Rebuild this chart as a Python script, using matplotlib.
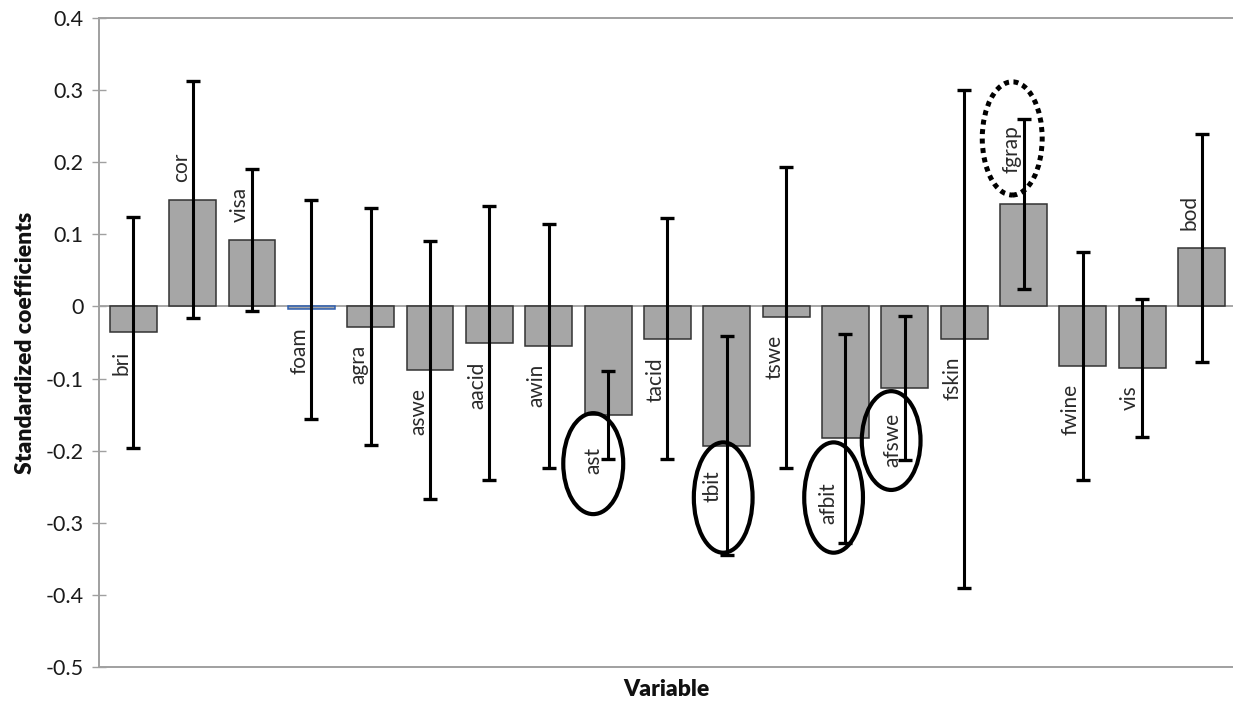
import matplotlib
matplotlib.use("Agg")
import matplotlib.pyplot as plt
from matplotlib.patches import Ellipse
from matplotlib.ticker import FuncFormatter
import numpy as np

# ---- data ----
variables = ["bri", "cor", "visa", "foam", "agra", "aswe", "aacid", "awin", "ast",
             "tacid", "tbit", "tswe", "afbit", "afswe", "fskin", "fgrap", "fwine",
             "vis", "bod"]
coefficients = [-0.036, 0.148, 0.092, -0.004, -0.028, -0.088, -0.051, -0.055, -0.151,
                -0.045, -0.193, -0.015, -0.183, -0.113, -0.045, 0.142, -0.083,
                -0.085, 0.081]
errors = [0.160, 0.164, 0.098, 0.152, 0.164, 0.179, 0.190, 0.169, 0.061,
          0.167, 0.152, 0.209, 0.145, 0.100, 0.345, 0.118, 0.158,
          0.096, 0.158]
ytick_values = [-0.5, -0.4, -0.3, -0.2, -0.1, 0, 0.1, 0.2, 0.3, 0.4]

# circled labels: (variable, style)
highlight = {"ast": "solid", "tbit": "solid", "afbit": "solid", "afswe": "solid",
             "fgrap": "dotted"}

# ---- styling / layout ----
FONT = ["Lato", "DejaVu Sans"]
plt.rcParams["font.family"] = FONT
W, H, DPI = 1233, 702, 100
fig = plt.figure(figsize=(W / DPI, H / DPI), dpi=DPI)
ax = fig.add_axes([99 / W, 1 - 667 / H, (W - 99) / W, (667 - 18) / H])

x = np.arange(len(variables))
bar_colors = ["#A6A6A6"] * len(variables)
edge_colors = ["#333333"] * len(variables)
edge_colors[variables.index("foam")] = "#2F5FB0"

ax.axhline(0, color="#A0A0A0", lw=1.3, zorder=1)
ax.bar(x, coefficients, width=0.79, color=bar_colors, edgecolor=edge_colors,
       linewidth=1.1, zorder=2)
ax.errorbar(x, coefficients, yerr=errors, fmt="none", ecolor="black",
            elinewidth=2.2, capsize=5.2, capthick=2.4, zorder=3)

ax.set_xlim(-0.578, 18.53)
ax.set_ylim(-0.5, 0.4)
ax.set_xticks([])
ax.set_yticks(ytick_values)
ax.yaxis.set_major_formatter(FuncFormatter(lambda v, p: "0" if abs(v) < 1e-9 else f"{v:.1f}"))
ax.tick_params(axis="y", direction="inout", length=10, width=1.0, color="#A0A0A0",
               labelsize=15.5, labelcolor="#1a1a1a", pad=6)
for s in ["left", "top", "bottom"]:
    ax.spines[s].set_color("#A0A0A0")
    ax.spines[s].set_linewidth(1.4)
ax.spines["right"].set_visible(False)

ax.set_ylabel("Standardized coefficients", fontsize=16.5, fontweight="heavy",
              color="#111111", labelpad=7)
ax.set_xlabel("Variable", fontsize=16.5, fontweight="heavy", color="#111111",
              labelpad=9)

# data labels (rotated) outside the bar end
gap_px = {"fgrap": 31, "ast": 32, "tbit": 25, "afbit": 44, "afswe": 25}
dx_px = {"afbit": -17, "ast": -15, "tbit": -14}
pt = 72 / DPI
for i, (name, v) in enumerate(zip(variables, coefficients)):
    g = gap_px.get(name, 18) * pt
    d = dx_px.get(name, -12) * pt
    if v >= 0:
        ax.annotate(name, (i, v), xytext=(d, g), textcoords="offset points",
                    rotation=90, ha="center", va="bottom", fontsize=15,
                    color="#2a2a2a", zorder=4)
    else:
        ax.annotate(name, (i, v), xytext=(d, -g), textcoords="offset points",
                    rotation=90, ha="center", va="top", fontsize=15,
                    color="#2a2a2a", zorder=4)

# hand-drawn highlight ellipses around the circled labels (dx, y-centre, w, h)
ellipse_geom = {"ast": (-0.25, -0.218, 1.01, 0.140),
                "tbit": (-0.06, -0.265, 0.99, 0.153),
                "afbit": (-0.20, -0.265, 0.99, 0.153),
                "afswe": (-0.23, -0.186, 0.99, 0.137),
                "fgrap": (-0.19, 0.233, 1.01, 0.157)}
for name, style in highlight.items():
    i = variables.index(name)
    ddx, cy, w, h = ellipse_geom[name]
    if style == "solid":
        e = Ellipse((i + ddx, cy), w, h, fill=False, edgecolor="black", lw=3.0,
                    zorder=5)
    else:
        e = Ellipse((i + ddx, cy), w, h, fill=False, edgecolor="black", lw=3.6,
                    linestyle=(0, (1.0, 0.9)), zorder=5)
        e.set_capstyle("butt")
    ax.add_patch(e)

fig.savefig("out.png", dpi=DPI)
